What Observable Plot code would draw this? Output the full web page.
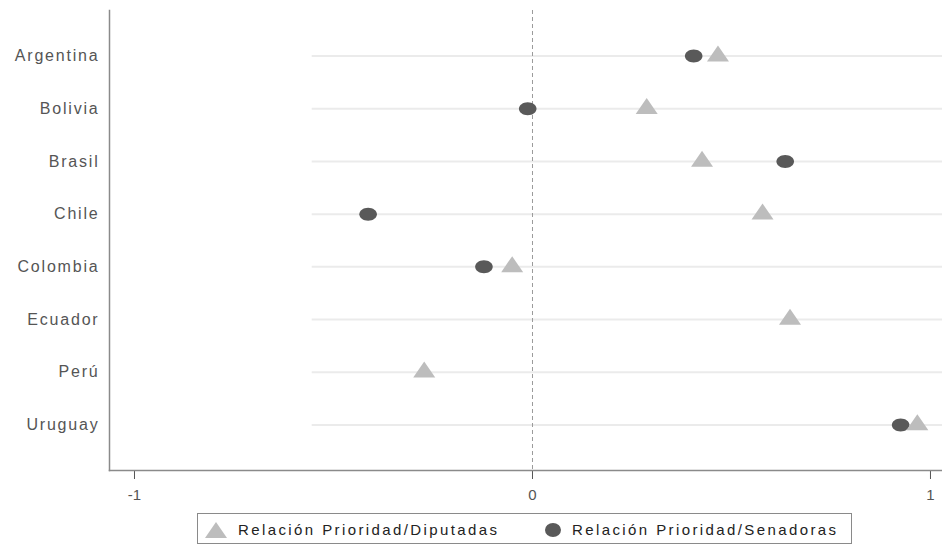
<!DOCTYPE html>
<html>
<head>
<meta charset="utf-8">
<script src="https://cdn.jsdelivr.net/npm/d3@7"></script>
<script src="https://cdn.jsdelivr.net/npm/@observablehq/plot@0.6"></script>
<style>
  html, body { margin: 0; padding: 0; background: #fff; }
  body { width: 942px; height: 548px; position: relative; font-family: "Liberation Sans", Arial, sans-serif; overflow: hidden; }
  #chart { position: absolute; left: 0; top: 0; }
  #legend { position: absolute; left: 197px; top: 513px; width: 655px; height: 31px; border: 1px solid #8a8a8a; box-sizing: border-box; color: #222; font-size: 15px; letter-spacing: 2.4px; }
  .item { position: absolute; top: 0; height: 31px; display: flex; align-items: center; white-space: nowrap; }
  .item svg { margin-right: 10px; }
</style>
</head>
<body>
<div id="chart"></div>
<div id="legend"></div>
<script>
// ---- data ----
const countries = ["Argentina", "Bolivia", "Brasil", "Chile", "Colombia", "Ecuador", "Perú", "Uruguay"];
const diputadas = [0.466, 0.287, 0.426, 0.578, -0.051, 0.647, -0.272, 0.967];
const senadoras = [0.405, -0.012, 0.635, -0.413, -0.122, null, null, 0.925];
const xTicks = [-1, 0, 1];
const seriesNames = ["Relación Prioridad/Diputadas", "Relación Prioridad/Senadoras"];

// ---- build tables ----
const dipRows = countries.map((c, i) => ({country: c, value: diputadas[i]})).filter(d => d.value != null);
const senRows = countries.map((c, i) => ({country: c, value: senadoras[i]})).filter(d => d.value != null);

// custom symbols (the original is horizontally stretched)
const triangleSym = {
  draw(ctx) {
    const w = 11, h = 16;
    ctx.moveTo(0, -h * 2 / 3);
    ctx.lineTo(w, h / 3);
    ctx.lineTo(-w, h / 3);
    ctx.closePath();
  }
};
const ellipseSym = {
  draw(ctx) {
    const rx = 8.8, ry = 6.5, k = 0.5523;
    ctx.moveTo(rx, 0);
    ctx.bezierCurveTo(rx, ry * k, rx * k, ry, 0, ry);
    ctx.bezierCurveTo(-rx * k, ry, -rx, ry * k, -rx, 0);
    ctx.bezierCurveTo(-rx, -ry * k, -rx * k, -ry, 0, -ry);
    ctx.bezierCurveTo(rx * k, -ry, rx, -ry * k, rx, 0);
    ctx.closePath();
  }
};

const xMin = -1.0628, xMax = 1.0302, gridStart = -0.5535;
const triColor = "#bdbdbd", dotColor = "#595959";

const plot = Plot.plot({
  width: 942,
  height: 508,
  marginLeft: 109,
  marginRight: 0,
  marginTop: 10,
  marginBottom: 38,
  style: {fontFamily: "Liberation Sans, Arial, sans-serif", fontSize: "15px", color: "#555", background: "#fff"},
  x: {domain: [xMin, xMax]},
  y: {type: "point", domain: countries, padding: 0.865, round: false},
  marks: [
    Plot.ruleY(countries, {y: d => d, x1: gridStart, x2: xMax, stroke: "#ebebeb", strokeWidth: 2}),
    Plot.ruleX([0], {stroke: "#9a9a9a", strokeWidth: 1, strokeDasharray: "4,3"}),
    Plot.dot(senRows, {x: "value", y: "country", symbol: ellipseSym, r: 5, fill: dotColor, stroke: null}),
    Plot.dot(dipRows, {x: "value", y: "country", symbol: triangleSym, r: 5, fill: triColor, stroke: null}),
    Plot.axisY({tickSize: 0, tickPadding: 10, fontSize: 16, label: null}),
    Plot.axisX({ticks: xTicks, tickSize: 9, tickPadding: 10, stroke: "#555", tickFormat: d => d === -1 ? "-1" : String(d), label: null}),
    Plot.frame({anchor: "left", stroke: "#8a8a8a", strokeWidth: 1.5}),
    Plot.frame({anchor: "bottom", stroke: "#8a8a8a", strokeWidth: 1.5})
  ]
});
document.getElementById("chart").appendChild(plot);
d3.select(plot).selectAll('g[aria-label="y-axis tick label"] text').style("letter-spacing", "1.8px").style("fill", "#555");
d3.select(plot).selectAll('g[aria-label="x-axis tick label"] text').style("fill", "#555");

// ---- legend ----
const legend = d3.select("#legend");
const it1 = legend.append("div").attr("class", "item").style("left", "6px");
const s1 = it1.append("svg").attr("width", 24).attr("height", 18);
s1.append("path").attr("d", "M12,1 L23,17 L1,17 Z").attr("fill", triColor);
it1.append("span").text(seriesNames[0]);
const it2 = legend.append("div").attr("class", "item").style("left", "346px");
const s2 = it2.append("svg").attr("width", 18).attr("height", 16);
s2.append("ellipse").attr("cx", 9).attr("cy", 8).attr("rx", 8).attr("ry", 7).attr("fill", dotColor);
it2.append("span").text(seriesNames[1]);
</script>
</body>
</html>
